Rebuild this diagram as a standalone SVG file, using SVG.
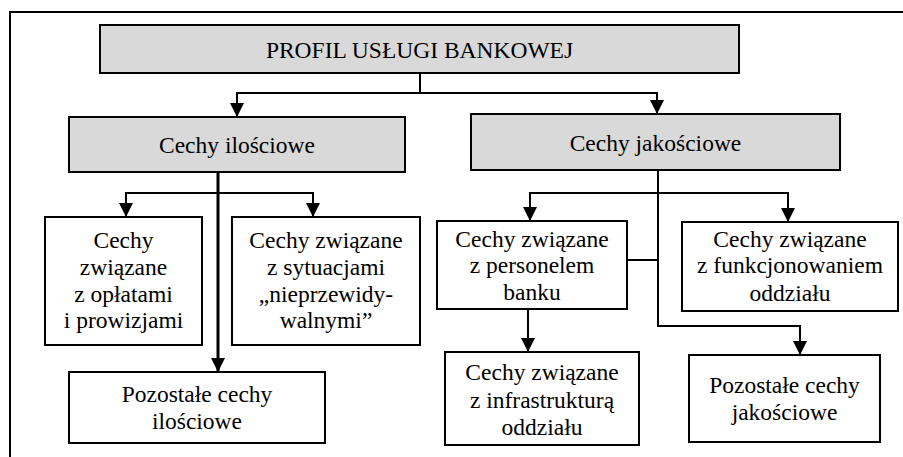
<svg xmlns="http://www.w3.org/2000/svg" width="903" height="457" viewBox="0 0 903 457">
<defs>
<style>
.box{fill:#fff;stroke:#000;stroke-width:2}
.hd{fill:#d9d9d9;stroke:#000;stroke-width:2}
.t{font-size:23.5px;fill:#000;text-anchor:middle}
.c{fill:none;stroke:#000;stroke-width:2}
.a{marker-end:url(#arr)}
</style>
<marker id="arr" markerUnits="userSpaceOnUse" markerWidth="14" markerHeight="14" refX="14" refY="7" orient="auto" viewBox="0 0 14 14">
<path d="M0,0 L14,7 L0,14 Z" fill="#000"/>
</marker>
</defs>
<rect width="903" height="457" fill="#fff"/>
<path d="M10,457 V12 H903" fill="none" stroke="#000" stroke-width="2"/>
<g id="connectors">
<path class="c a" d="M420,73 V93 H237 V117"/>
<path class="c a" d="M420,93 H657 V114"/>
<path class="c a" d="M218,172 V372" style="stroke-width:3"/>
<path class="c a" d="M218,193 H126 V217"/>
<path class="c a" d="M218,193 H313 V217"/>
<path class="c a" d="M658,170 V326 H800 V355"/>
<path class="c a" d="M658,193 H530 V221"/>
<path class="c a" d="M658,193 H788 V222"/>
<path class="c" d="M627,260 H658"/>
<path class="c a" d="M528,309 V352"/>
</g>
<g font-family="'Liberation Serif', 'Times New Roman', 'DejaVu Serif', serif">
<g id="profil">
<rect class="hd" x="100" y="25" width="639" height="48"/>
<text class="t" x="419.5" y="58">PROFIL USŁUGI BANKOWEJ</text>
</g>
<g id="ilosciowe">
<rect class="hd" x="69" y="117" width="336" height="55"/>
<text class="t" x="237" y="153">Cechy ilościowe</text>
</g>
<g id="jakosciowe">
<rect class="hd" x="471" y="114" width="369" height="56"/>
<text class="t" x="655.5" y="151">Cechy jakościowe</text>
</g>
<g id="oplaty">
<rect class="box" x="45" y="217" width="157" height="128"/>
<text class="t" x="123.5" y="248">Cechy</text>
<text class="t" x="123.5" y="275">związane</text>
<text class="t" x="123.5" y="302">z opłatami</text>
<text class="t" x="123.5" y="328">i prowizjami</text>
</g>
<g id="sytuacje">
<rect class="box" x="232" y="217" width="188" height="128"/>
<text class="t" x="326" y="248">Cechy związane</text>
<text class="t" x="326" y="275">z sytuacjami</text>
<text class="t" x="326" y="302">„nieprzewidy-</text>
<text class="t" x="326" y="328">walnymi”</text>
</g>
<g id="pozostale-ilosciowe">
<rect class="box" x="69" y="372" width="256" height="71"/>
<text class="t" x="197" y="402">Pozostałe cechy</text>
<text class="t" x="197" y="429">ilościowe</text>
</g>
<g id="personel">
<rect class="box" x="437" y="221" width="190" height="88"/>
<text class="t" x="532" y="247">Cechy związane</text>
<text class="t" x="532" y="273">z personelem</text>
<text class="t" x="532" y="300">banku</text>
</g>
<g id="funkcjonowanie">
<rect class="box" x="682" y="222" width="216" height="89"/>
<text class="t" x="790" y="247">Cechy związane</text>
<text class="t" x="790" y="273">z funkcjonowaniem</text>
<text class="t" x="790" y="301">oddziału</text>
</g>
<g id="infrastruktura">
<rect class="box" x="445" y="352" width="194" height="93"/>
<text class="t" x="542" y="380">Cechy związane</text>
<text class="t" x="542" y="408">z infrastrukturą</text>
<text class="t" x="542" y="435">oddziału</text>
</g>
<g id="pozostale-jakosciowe">
<rect class="box" x="689" y="355" width="191" height="87"/>
<text class="t" x="784.5" y="393">Pozostałe cechy</text>
<text class="t" x="784.5" y="420">jakościowe</text>
</g>
</g>
</svg>
